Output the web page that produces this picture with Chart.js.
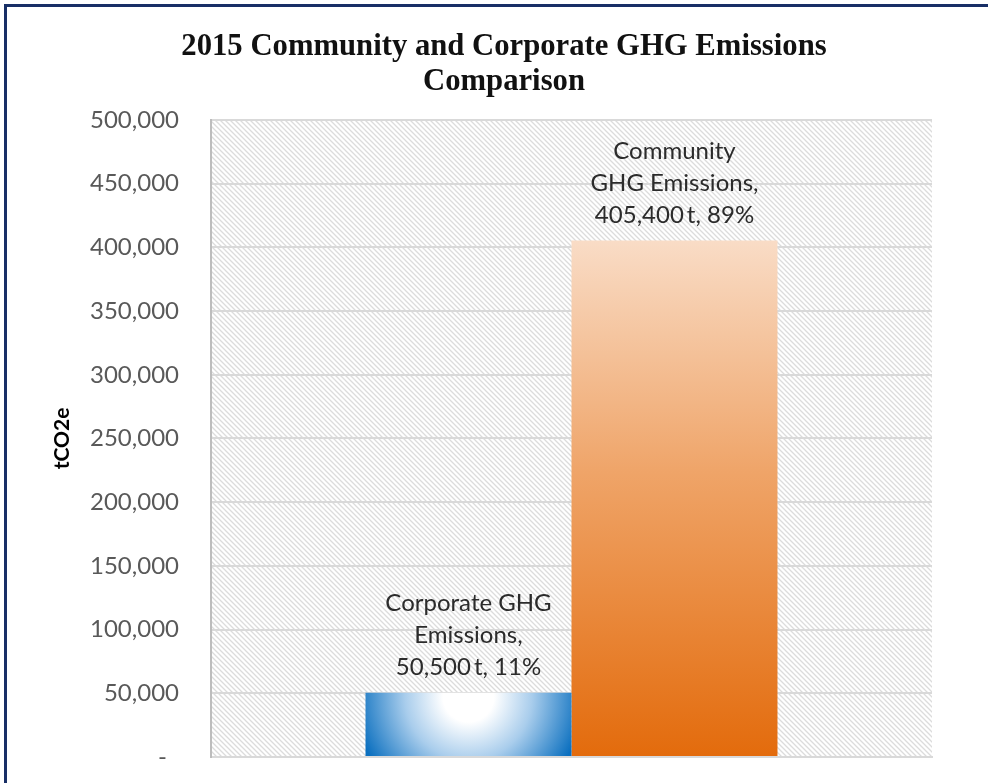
<!DOCTYPE html>
<html>
<head>
<meta charset="utf-8">
<script src="https://cdn.jsdelivr.net/npm/chart.js@4.4.1/dist/chart.umd.min.js"></script>
<style>
  html, body { margin: 0; padding: 0; background: #fff; }
  #wrap { position: relative; width: 988px; height: 783px; overflow: hidden; }
  #frame { position: absolute; left: 4px; top: 4px; width: 1200px; height: 1200px;
           border-top: 3px solid #182f66; border-left: 3px solid #182f66; pointer-events: none; }
  canvas { position: absolute; left: 0; top: 0; }
</style>
</head>
<body>
<div id="wrap">
  <canvas id="chart" width="988" height="783"></canvas>
  <div id="frame"></div>
</div>
<script>
// Emissions for 2015, in tonnes of CO2 equivalent
const seriesNames = ['Corporate GHG Emissions', 'Community GHG Emissions'];
const seriesValues = [50500, 405400];
// Wrapped name text shown above each bar
const labelNameLines = [
  ['Corporate GHG', 'Emissions,'],
  ['Community', 'GHG Emissions,']
];
const categories = [''];
const yTicks = [0, 50000, 100000, 150000, 200000, 250000, 300000, 350000, 400000, 450000, 500000];
const titleLines = ['2015 Community and Corporate GHG Emissions', 'Comparison'];
const yAxisTitle = 'tCO2e';

const CAT_PCT = 0.5714;
const total = seriesValues.reduce((a, b) => a + b, 0);
const fmt = v => v.toLocaleString('en-US');

// diagonal hatch used behind the plot
function makeHatch() {
  const c = document.createElement('canvas');
  c.width = 5; c.height = 5;
  const g = c.getContext('2d');
  g.fillStyle = '#ffffff';
  g.fillRect(0, 0, 5, 5);
  g.strokeStyle = '#dcdcdc';
  g.lineWidth = 1.3;
  g.beginPath();
  g.moveTo(-1, -1); g.lineTo(6, 6);
  g.moveTo(-6, -1); g.lineTo(1, 6);
  g.moveTo(4, -1); g.lineTo(11, 6);
  g.stroke();
  return c;
}
const hatchCanvas = makeHatch();

const hatchPlugin = {
  id: 'hatch',
  beforeDraw(chart) {
    const { ctx, chartArea: a } = chart;
    ctx.save();
    ctx.fillStyle = ctx.createPattern(hatchCanvas, 'repeat');
    ctx.fillRect(a.left, a.top, a.right - a.left, a.bottom - a.top);
    ctx.restore();
  }
};

// bar rectangle derived from the scales
function barBox(chart, di) {
  const a = chart.chartArea;
  const xs = chart.scales.x, ys = chart.scales.y;
  const cx = xs.getPixelForValue(0);
  const w = (a.right - a.left) * CAT_PCT / 2;
  const left = cx - w + di * w;
  return { left, right: left + w, top: ys.getPixelForValue(seriesValues[di]), bottom: ys.getPixelForValue(0), w };
}

function corporateFill(context) {
  const chart = context.chart;
  if (!chart.chartArea) return '#0070c0';
  const b = barBox(chart, 0);
  const cx = (b.left + b.right) / 2;
  const g = chart.ctx.createRadialGradient(cx, b.top + 4, 0, cx, b.top + 4, b.w * 0.56);
  g.addColorStop(0, '#ffffff');
  g.addColorStop(0.22, '#ffffff');
  g.addColorStop(0.55, '#a9cdec');
  g.addColorStop(1, '#0a6fbf');
  return g;
}

function communityFill(context) {
  const chart = context.chart;
  if (!chart.chartArea) return '#e46c0a';
  const b = barBox(chart, 1);
  const g = chart.ctx.createLinearGradient(0, b.top, 0, b.bottom);
  g.addColorStop(0, '#f9dcc6');
  g.addColorStop(0.45, '#efa468');
  g.addColorStop(1, '#e36b0c');
  return g;
}

// multi-line value labels above each bar
const labelPlugin = {
  id: 'barLabels',
  afterDatasetsDraw(chart) {
    const ctx = chart.ctx;
    ctx.save();
    ctx.font = '24px Lato';
    ctx.fillStyle = '#2b2b2b';
    ctx.textAlign = 'center';
    ctx.textBaseline = 'alphabetic';
    seriesValues.forEach((v, i) => {
      const el = chart.getDatasetMeta(i).data[0];
      const pct = Math.round(v / total * 100);
      const lines = labelNameLines[i].concat([fmt(v) + '\u2009t, ' + pct + '%']);
      const lh = 32;
      let y = el.y - 18;
      for (let k = lines.length - 1; k >= 0; k--) {
        ctx.fillText(lines[k], el.x, y);
        y -= lh;
      }
    });
    ctx.restore();
  }
};

new Chart(document.getElementById('chart'), {
  type: 'bar',
  data: {
    labels: categories,
    datasets: [
      { label: seriesNames[0], data: [seriesValues[0]], backgroundColor: corporateFill, borderWidth: 0 },
      { label: seriesNames[1], data: [seriesValues[1]], backgroundColor: communityFill, borderWidth: 0 }
    ]
  },
  options: {
    responsive: false,
    animation: false,
    events: [],
    barPercentage: 1,
    categoryPercentage: CAT_PCT,
    layout: { padding: { left: 40, right: 20, top: 0, bottom: 26 } },
    plugins: {
      legend: { display: false },
      tooltip: { enabled: false },
      title: {
        display: true,
        text: titleLines,
        color: '#111111',
        font: { family: 'Liberation Serif', weight: 'bold', size: 30.7, lineHeight: 1.14 },
        padding: { top: 30, bottom: 20 }
      }
    },
    scales: {
      x: {
        grid: { display: false, drawTicks: false },
        border: { display: true, color: '#d9d9d9', width: 2 },
        ticks: { display: false }
      },
      y: {
        min: 0,
        max: 500000,
        afterBuildTicks(scale) { scale.ticks = yTicks.map(v => ({ value: v })); },
        afterFit(scale) { scale.width = 171; },
        grid: { color: '#d9d9d9', lineWidth: 2, drawTicks: true, tickLength: 30, tickColor: 'rgba(0,0,0,0)' },
        border: { display: true, color: '#bdbdbd', width: 2 },
        ticks: {
          padding: 2,
          color: '#595959',
          font: { family: 'Lato', size: 24 },
          callback: v => v === 0 ? '-\u2002' : fmt(v)
        },
        title: {
          display: true,
          text: yAxisTitle,
          color: '#000000',
          font: { family: 'Lato', weight: 'bold', size: 21, lineHeight: 1.2 },
          padding: { top: 10, bottom: 0 }
        }
      },
      // empty right-hand margin of the frame
      yRight: {
        position: 'right',
        min: 0,
        max: 500000,
        afterFit(scale) { scale.width = 36; },
        grid: { display: false, drawTicks: false },
        border: { display: false },
        ticks: { display: false }
      }
    }
  },
  plugins: [hatchPlugin, labelPlugin]
});
</script>
</body>
</html>
